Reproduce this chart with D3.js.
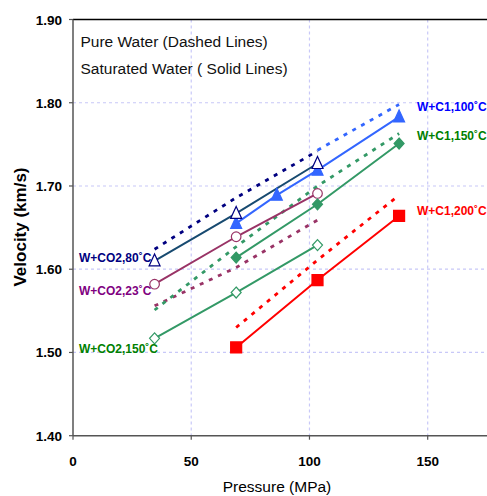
<!DOCTYPE html>
<html>
<head>
<meta charset="utf-8">
<script src="https://cdn.jsdelivr.net/npm/d3@7"></script>
<style>
  body { margin: 0; background: #fff; }
  text { font-family: Arial, "Liberation Sans", sans-serif; }
</style>
</head>
<body>
<div id="chart"></div>
<script>
// pressure (MPa) of each measurement
var pressure = [34.5, 69, 86.2, 103.4, 137.9];
var xTicks = [0, 50, 100, 150];
var yTicks = [1.40, 1.50, 1.60, 1.70, 1.80, 1.90];

// saturated water (solid lines), velocity km/s
var co2_80 = [[34.5, 1.610], [69, 1.667], [103.4, 1.727]];
var co2_23 = [[34.5, 1.582], [69, 1.639], [103.4, 1.691]];
var co2_150 = [[34.5, 1.517], [69, 1.572], [103.4, 1.629]];
var c1_100 = [[69, 1.655], [86.2, 1.689], [103.4, 1.719], [137.9, 1.783]];
var c1_150 = [[69, 1.614], [103.4, 1.678], [137.9, 1.751]];
var c1_200 = [[69, 1.506], [103.4, 1.587], [137.9, 1.664]];

// pure water (dashed lines)
var pure_80 = [[34.5, 1.624], [69, 1.686], [103.4, 1.742]];
var pure_100 = [[103.4, 1.743], [137.9, 1.798]];
var pure_23 = [[34.5, 1.556], [69, 1.602], [103.4, 1.659]];
var pure_150 = [[34.5, 1.551], [69, 1.627], [103.4, 1.700], [137.9, 1.763]];
var pure_200 = [[69, 1.530], [103.4, 1.611], [137.9, 1.689]];

var W = 487, H = 496;
var svg = d3.select("#chart").append("svg")
			.attr("width", W)
			.attr("height", H);

var x = d3.scaleLinear().domain([0, 150]).range([73, 427.7]);
var y = d3.scaleLinear().domain([1.4, 1.9]).range([435.7, 19.5]);
var xEnd = 490;

//grid
yTicks.slice(1, 5).forEach(function(t){
	svg.append("line")
		.attr("x1", x(0)).attr("x2", xEnd)
		.attr("y1", y(t)).attr("y2", y(t))
		.style("stroke", "#c8c8f8").style("stroke-width", 1.2)
		.style("stroke-dasharray", "3,3");
});
xTicks.slice(1).forEach(function(t){
	svg.append("line")
		.attr("x1", x(t)).attr("x2", x(t))
		.attr("y1", y(1.9)).attr("y2", y(1.4))
		.style("stroke", "#c8c8f8").style("stroke-width", 1.2)
		.style("stroke-dasharray", "3,3");
});

//axes
svg.append("line")
	.attr("x1", x(0)).attr("x2", xEnd).attr("y1", y(1.9)).attr("y2", y(1.9))
	.style("stroke", "#000").style("stroke-width", 1.5);
svg.append("line")
	.attr("x1", x(0)).attr("x2", xEnd).attr("y1", y(1.4)).attr("y2", y(1.4))
	.style("stroke", "#555").style("stroke-width", 1.5);
svg.append("line")
	.attr("x1", x(0)).attr("x2", x(0)).attr("y1", y(1.9)).attr("y2", y(1.4))
	.style("stroke", "#555").style("stroke-width", 1.5);

yTicks.forEach(function(t){
	svg.append("line")
		.attr("x1", x(0) - 4).attr("x2", x(0))
		.attr("y1", y(t)).attr("y2", y(t))
		.style("stroke", "#555").style("stroke-width", 1.2);
	svg.append("text")
		.attr("x", 62).attr("y", y(t) + 5)
		.attr("text-anchor", "end")
		.style("font-size", "13.5px").style("font-weight", "bold")
		.text(t.toFixed(2));
});
xTicks.forEach(function(t){
	svg.append("line")
		.attr("x1", x(t)).attr("x2", x(t))
		.attr("y1", y(1.4)).attr("y2", y(1.4) + 4)
		.style("stroke", "#555").style("stroke-width", 1.2);
	svg.append("text")
		.attr("x", x(t)).attr("y", 466)
		.attr("text-anchor", "middle")
		.style("font-size", "13.5px").style("font-weight", "bold")
		.text(t);
});

svg.append("text")
	.attr("x", 277).attr("y", 491.5)
	.attr("text-anchor", "middle")
	.style("font-size", "15.5px")
	.text("Pressure (MPa)");
svg.append("text")
	.attr("transform", "translate(26,227) rotate(-90)")
	.attr("text-anchor", "middle")
	.style("font-size", "17px").style("font-weight", "bold")
	.text("Velocity (km/s)");

//header notes
svg.append("text").attr("x", 80.5).attr("y", 46.5)
	.style("font-size", "15.5px").style("fill", "#111").text("Pure Water (Dashed Lines)");
svg.append("text").attr("x", 80.5).attr("y", 74)
	.style("font-size", "15.5px").style("fill", "#111").text("Saturated Water ( Solid Lines)");

var line = d3.line()
			.x(function(d){ return x(d[0]); })
			.y(function(d){ return y(d[1]); });

//dashed pure water lines
var dashed = [
	{data: pure_80, color: "#000080"},
	{data: pure_23, color: "#993366"},
	{data: pure_150, color: "#339966"},
	{data: pure_200, color: "#ff0000"},
	{data: pure_100, color: "#3366ff"}
];
dashed.forEach(function(s){
	svg.append("path")
		.attr("d", line(s.data))
		.style("fill", "none")
		.style("stroke", s.color)
		.style("stroke-width", 2.8)
		.style("stroke-dasharray", "4,6");
});

//solid lines + markers
var solid = [
	{data: co2_150, color: "#339966", marker: "diamond", fill: "#fff"},
	{data: co2_23, color: "#993366", marker: "circle", fill: "#fff"},
	{data: c1_200, color: "#ff0000", marker: "square", fill: "#ff0000"},
	{data: c1_150, color: "#339966", marker: "diamond", fill: "#339966"},
	{data: c1_100, color: "#3366ff", marker: "triangle", fill: "#3366ff"},
	{data: co2_80, color: "#174a70", marker: "triangle", fill: "#fff", stroke: "#000080"}
];

function markerPath(type, cx, cy){
	if(type == "triangle") {
		return "M" + cx + "," + (cy - 7) + "L" + (cx + 5.5) + "," + (cy + 5) + "L" + (cx - 5.5) + "," + (cy + 5) + "Z";
	}
	if(type == "diamond") {
		return "M" + cx + "," + (cy - 5.5) + "L" + (cx + 5) + "," + cy + "L" + cx + "," + (cy + 5.5) + "L" + (cx - 5) + "," + cy + "Z";
	}
	// square
	return "M" + (cx - 5.5) + "," + (cy - 5.5) + "h11v11h-11Z";
}

solid.forEach(function(s){
	svg.append("path")
		.attr("d", line(s.data))
		.style("fill", "none")
		.style("stroke", s.color)
		.style("stroke-width", 2);
});
solid.forEach(function(s){
	s.data.forEach(function(d){
		if(s.marker == "circle") {
			svg.append("circle")
				.attr("cx", x(d[0])).attr("cy", y(d[1]))
				.attr("r", 4.8)
				.style("fill", s.fill)
				.style("stroke", s.color).style("stroke-width", 1.2);
		} else {
			svg.append("path")
				.attr("d", markerPath(s.marker, x(d[0]), y(d[1])))
				.style("fill", s.fill)
				.style("stroke", s.stroke || s.color)
				.style("stroke-width", 1.2);
		}
	});
});

//series labels
var labels = [
	{text: "W+C1,100˚C", x: 417, y: 111, color: "#0000ff"},
	{text: "W+C1,150˚C", x: 417, y: 140, color: "#008000"},
	{text: "W+C1,200˚C", x: 417, y: 215, color: "#ff0000"},
	{text: "W+CO2,80˚C", x: 79, y: 262, color: "#000080"},
	{text: "W+CO2,23˚C", x: 79, y: 295, color: "#800080"},
	{text: "W+CO2,150˚C", x: 79, y: 353, color: "#008000"}
];
labels.forEach(function(l){
	svg.append("text")
		.attr("x", l.x).attr("y", l.y)
		.style("font-size", "12px").style("font-weight", "bold")
		.style("fill", l.color)
		.text(l.text);
});
</script>
</body>
</html>
